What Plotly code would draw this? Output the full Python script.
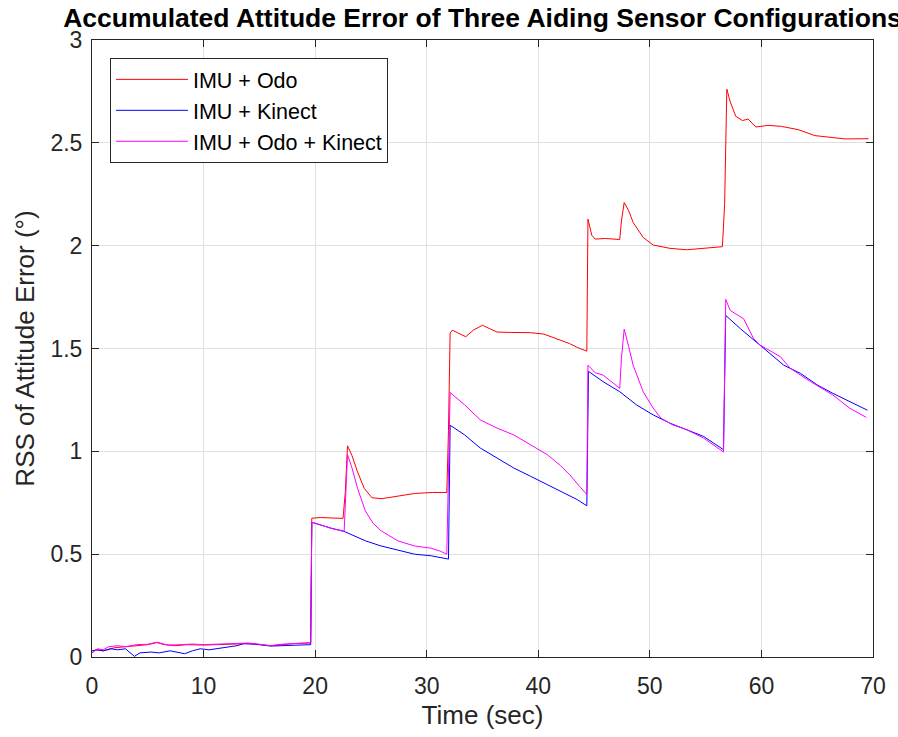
import plotly.graph_objects as go

# ---- data ----
t_odo = [0, 0.3, 1, 2, 3, 4, 5, 5.8, 6.5, 7.5, 8.5, 10, 11, 12, 13, 14, 15, 16, 17, 18, 19.5,
         19.6, 19.7, 20.5, 21.5, 22.5, 22.7, 22.9, 23.3, 23.8, 24.4, 25.1, 26, 27.4, 28.9, 30.5, 31.8,
         31.95, 32.1, 32.3, 32.8, 33.5, 34.2, 35, 35.7, 36.3, 37.5, 39.3, 40.5, 41.5, 42.8, 43.5, 44.35,
         44.45, 44.8, 45.1, 46, 47.3, 47.45, 47.7, 48.1, 48.5, 49.4, 50.3, 51.8, 53.3, 54.8, 56.5,
         56.7, 56.9, 57.2, 57.7, 58.3, 58.8, 59.5, 60.6, 61.8, 63.3, 64.8, 66.3, 67.5, 69.6]
y_odo = [0.02, 0.035, 0.03, 0.045, 0.05, 0.055, 0.06, 0.07, 0.06, 0.055, 0.06, 0.058, 0.06, 0.06, 0.065, 0.065, 0.06, 0.055, 0.06, 0.065, 0.068,
         0.068, 0.675, 0.678, 0.676, 0.674, 0.80, 1.027, 0.98, 0.90, 0.82, 0.774, 0.77, 0.783, 0.795, 0.80, 0.80,
         1.10, 1.575, 1.589, 1.575, 1.557, 1.59, 1.613, 1.595, 1.58, 1.578, 1.577, 1.57, 1.55, 1.524, 1.505, 1.487,
         2.129, 2.05, 2.032, 2.035, 2.03, 2.12, 2.21, 2.17, 2.113, 2.04, 2.003, 1.987, 1.98, 1.988, 1.995,
         2.20, 2.761, 2.70, 2.629, 2.608, 2.616, 2.577, 2.585, 2.58, 2.564, 2.535, 2.527, 2.519, 2.52]

t_kin = [0, 0.5, 1, 1.7, 2.3, 3, 3.8, 4.3, 5.3, 6, 7, 8.3, 9, 9.7, 10.5, 11.8, 13, 13.6, 14.8, 16, 17, 18, 19.5,
         19.6, 19.7, 20.5, 21.5, 22.5, 23.5, 24.5, 25.9, 27.4, 28.9, 30.4, 31.5, 31.95,
         32.1, 33.4, 34.8, 36.3, 37.8, 39.3, 40.8, 42.3, 43.5, 44.35,
         44.5, 45.8, 47.3, 48.8, 50.3, 51.8, 53.3, 54.8, 56.6,
         56.8, 58.1, 59.9, 62, 63.5, 65, 66.4, 67.9, 69.5]
y_kin = [0.03, 0.035, 0.03, 0.04, 0.035, 0.04, 0.003, 0.02, 0.024, 0.02, 0.03, 0.016, 0.03, 0.04, 0.035, 0.045, 0.055, 0.065, 0.062, 0.053, 0.055, 0.058, 0.06,
         0.06, 0.655, 0.64, 0.625, 0.613, 0.59, 0.565, 0.54, 0.521, 0.50, 0.492, 0.48, 0.476,
         1.127, 1.08, 1.016, 0.968, 0.919, 0.879, 0.839, 0.795, 0.765, 0.735,
         1.389, 1.339, 1.29, 1.226, 1.177, 1.137, 1.105, 1.073, 1.008,
         1.661, 1.597, 1.516, 1.419, 1.379, 1.323, 1.282, 1.242, 1.20]

t_all = [0, 0.5, 1, 1.5, 2.3, 3, 4, 5, 5.8, 6.8, 8, 9, 10, 11, 12, 13, 14, 15, 16, 17, 18, 19.5,
         19.6, 19.7, 20.5, 21.5, 22.6, 22.9, 23.3, 23.8, 24.5, 25.2, 25.9, 27.4, 28.9, 30.4, 31.2, 31.8,
         32.1, 33.4, 34.8, 36.3, 37.8, 39.3, 40.8, 42.0, 42.8, 43.7, 44.35,
         44.45, 45.1, 45.8, 46.5, 47.3, 47.45, 47.7, 48.1, 48.5, 49.4, 50.3, 51, 52, 53.3, 54.8, 56.6,
         56.8, 57.2, 58.4, 59.3, 59.9, 61.7, 62.6, 64.4, 66.4, 67.9, 69.4]
y_all = [0.02, 0.04, 0.035, 0.05, 0.055, 0.05, 0.06, 0.062, 0.072, 0.058, 0.06, 0.063, 0.06, 0.062, 0.063, 0.066, 0.068, 0.062, 0.055, 0.062, 0.066, 0.07,
         0.07, 0.655, 0.64, 0.625, 0.61, 0.984, 0.92, 0.82, 0.71, 0.65, 0.614, 0.565, 0.54, 0.529, 0.515, 0.50,
         1.286, 1.226, 1.153, 1.113, 1.08, 1.032, 0.984, 0.93, 0.887, 0.83, 0.79,
         1.419, 1.382, 1.371, 1.34, 1.306, 1.45, 1.594, 1.51, 1.419, 1.29, 1.21, 1.161, 1.13, 1.105, 1.065, 0.997,
         1.739, 1.685, 1.645, 1.548, 1.516, 1.46, 1.403, 1.339, 1.274, 1.21, 1.165]

names = ["IMU + Odo", "IMU + Kinect", "IMU + Odo + Kinect"]
colors = ["#ff0000", "#0000ff", "#ff00ff"]
x_ticks = [0, 10, 20, 30, 40, 50, 60, 70]
y_ticks = [0, 0.5, 1, 1.5, 2, 2.5, 3]
y_tick_text = ["0", "0.5", "1", "1.5", "2", "2.5", "3"]

FONT = "Liberation Sans, Arial, Helvetica, sans-serif"
AX = "#262626"
GRID = "#e0e0e0"

fig = go.Figure()
for t, y, n, c in zip([t_odo, t_kin, t_all], [y_odo, y_kin, y_all], names, colors):
    fig.add_trace(go.Scatter(x=t, y=y, mode="lines", name=n,
                             line=dict(color=c, width=1)))

axis_common = dict(showline=True, linecolor=AX, linewidth=1, mirror="ticks",
                   ticks="inside", ticklen=7, tickcolor=AX, tickwidth=1,
                   showgrid=True, gridcolor=GRID, gridwidth=1, zeroline=False,
                   tickfont=dict(family=FONT, size=23, color=AX))

fig.update_layout(
    width=898, height=737,
    margin=dict(l=92, r=20, t=40, b=77),
    paper_bgcolor="white", plot_bgcolor="white",
    title=dict(text="Accumulated Attitude Error of Three Aiding Sensor Configurations",
               font=dict(family=FONT, size=26.5, color="#000000", weight="bold"),
               x=0.5, xref="paper", xanchor="center",
               y=1 - 18 / 737, yref="container", yanchor="middle"),
    xaxis=dict(range=[0, 70], tickvals=x_ticks,
               title=dict(text="Time (sec)", font=dict(family=FONT, size=26, color=AX), standoff=8),
               ticklabelstandoff=8, **axis_common),
    yaxis=dict(range=[0, 3], tickvals=y_ticks, ticktext=y_tick_text,
               title=dict(text="RSS of Attitude Error (°)", font=dict(family=FONT, size=26, color=AX), standoff=8),
               ticklabelstandoff=4, **axis_common),
    legend=dict(x=0.023, y=0.971, xanchor="left", yanchor="top",
                bordercolor=AX, borderwidth=1, bgcolor="white",
                font=dict(family=FONT, size=21.5, color="#000000"),
                itemwidth=72),
    showlegend=True,
)

fig.write_html("out.html")
